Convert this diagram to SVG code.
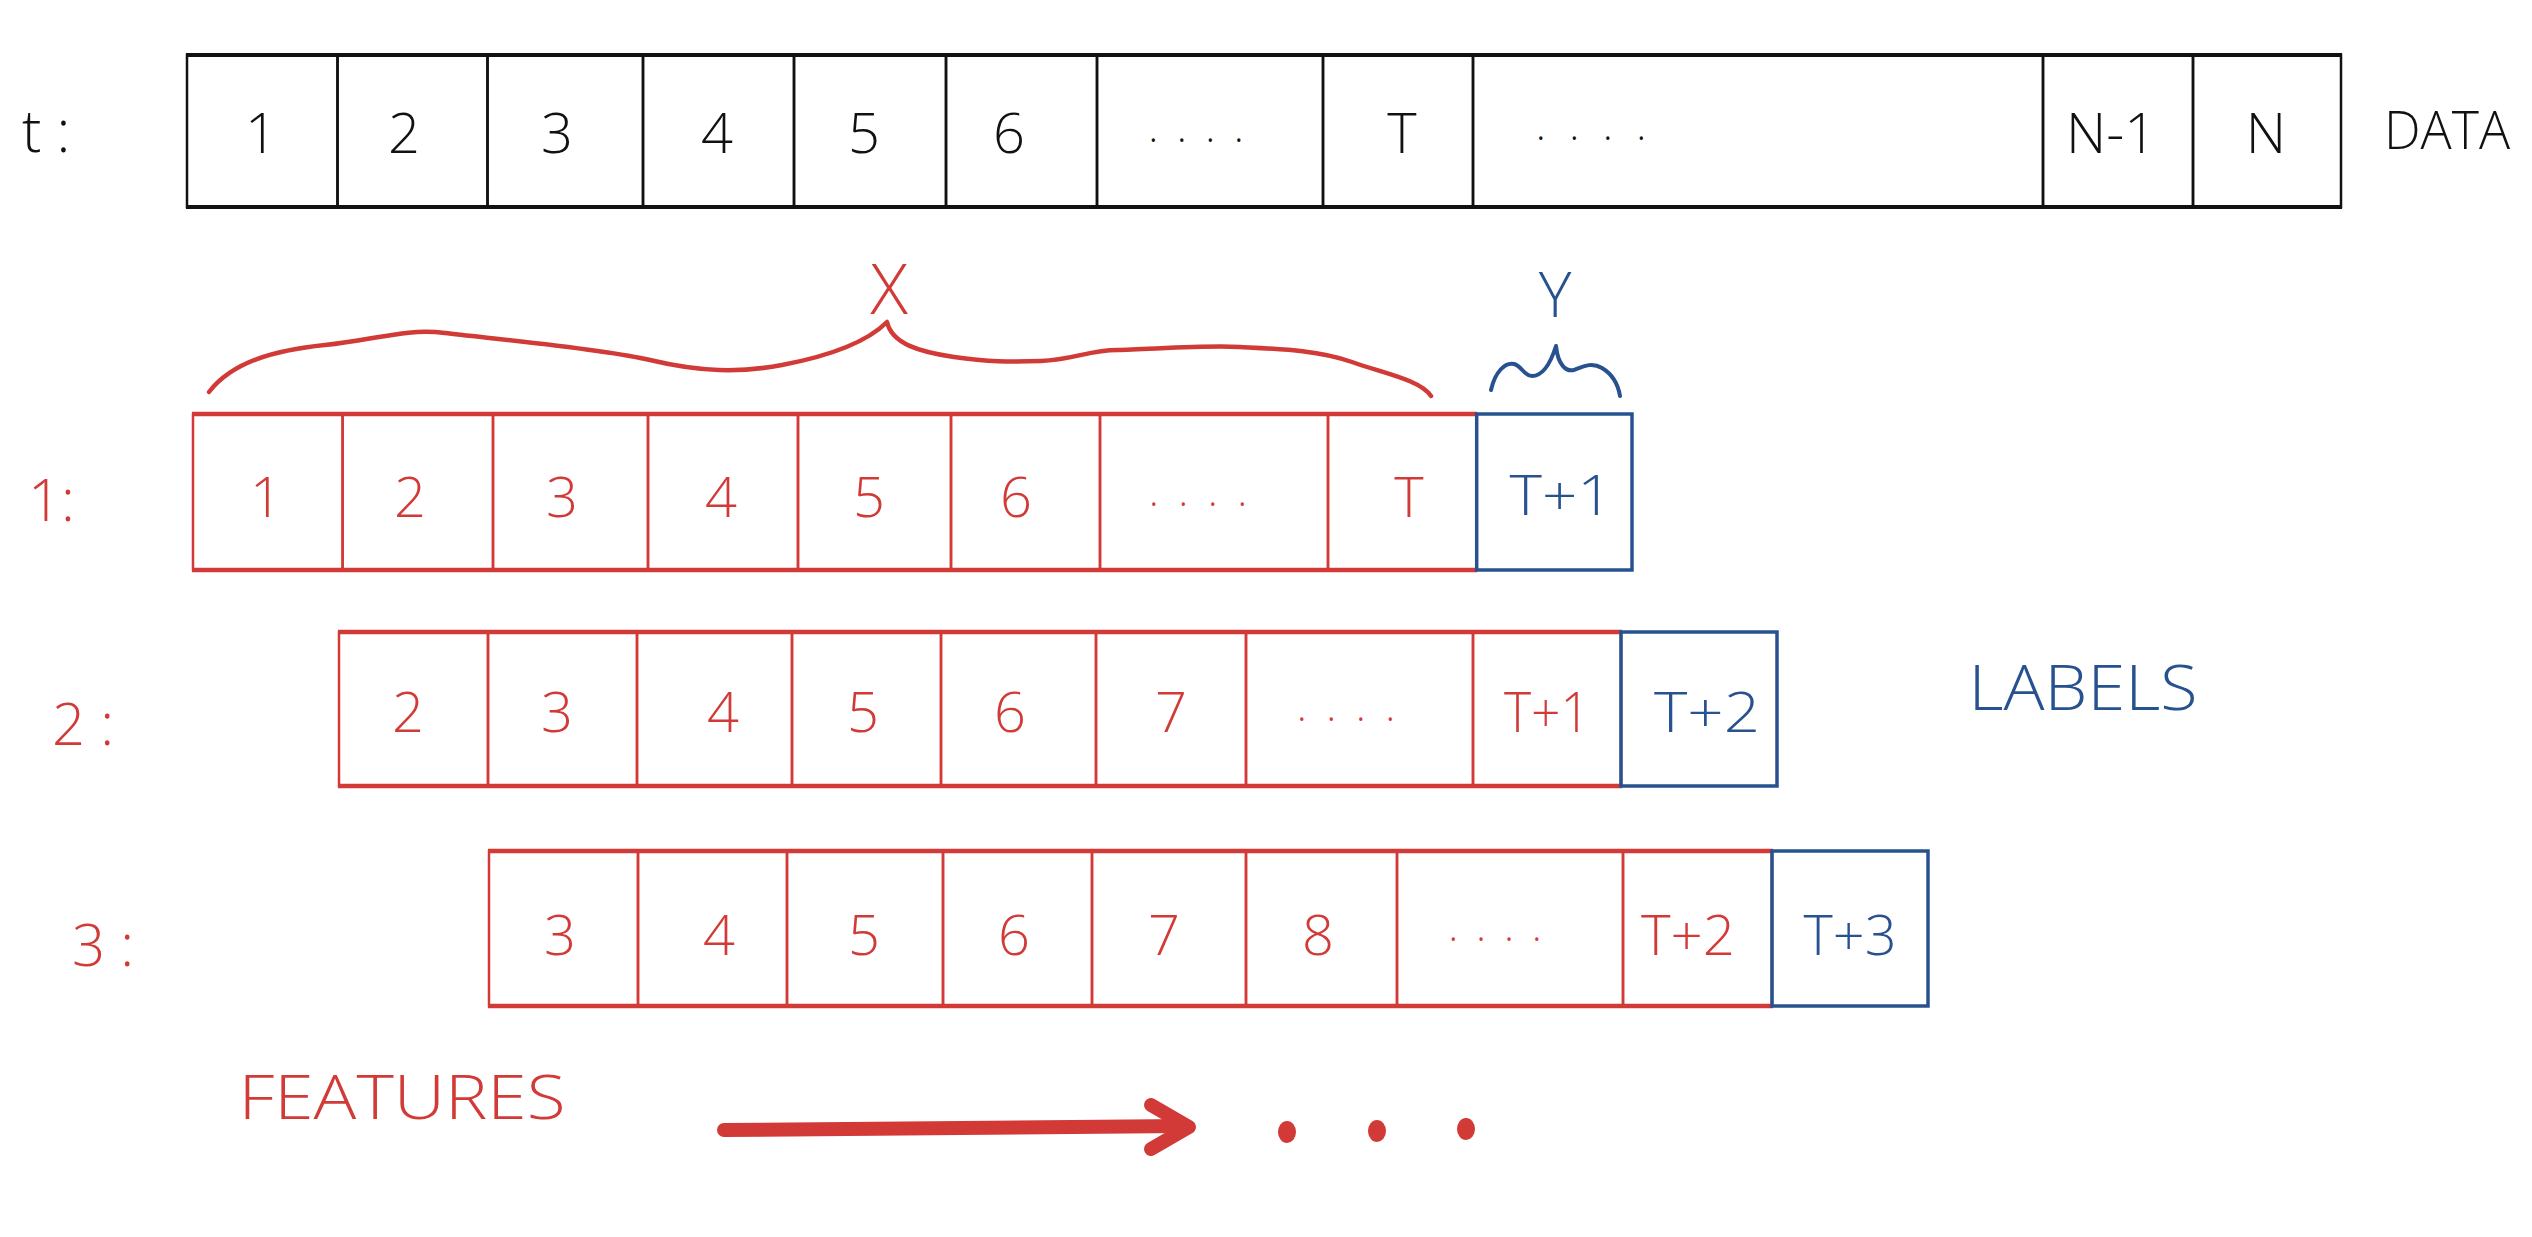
<svg xmlns="http://www.w3.org/2000/svg" width="2532" height="1237" viewBox="0 0 2532 1237">
<style>
text{font-family:"Open Sans","Liberation Sans",sans-serif;font-weight:300;text-anchor:middle}
.k{fill:#111}.r{fill:#d13a36}.b{fill:#27518f}
.cell{fill:none;stroke-width:2.5}
.ck{stroke:#111}.cr{stroke:#d13a36}.cb{stroke:#27518f}
.hk{stroke:#111;stroke-width:4}.hr{stroke:#d13a36;stroke-width:4.5}.hb{stroke:#27518f;stroke-width:4.5}
.d{font-size:56px}
.dots{font-size:40px}
.lbl{text-anchor:start;font-size:58px}
</style>
<rect width="2532" height="1237" fill="#fff"/>

<!-- DATA row -->
<g id="row-data">
  <text class="k lbl" x="22" y="152">t :</text>
  <g id="data-1"><rect class="cell ck" x="187" y="55" width="150.5" height="152"/><text class="k d" x="261" y="153">1</text></g>
  <g id="data-2"><rect class="cell ck" x="337.5" y="55" width="150" height="152"/><text class="k d" x="404" y="153">2</text></g>
  <g id="data-3"><rect class="cell ck" x="487.5" y="55" width="155.5" height="152"/><text class="k d" x="557" y="153">3</text></g>
  <g id="data-4"><rect class="cell ck" x="643" y="55" width="151" height="152"/><text class="k d" x="717" y="153">4</text></g>
  <g id="data-5"><rect class="cell ck" x="794" y="55" width="152" height="152"/><text class="k d" x="864" y="153">5</text></g>
  <g id="data-6"><rect class="cell ck" x="946" y="55" width="151" height="152"/><text class="k d" x="1009" y="153">6</text></g>
  <g id="data-dots1"><rect class="cell ck" x="1097" y="55" width="226" height="152"/><text class="k dots" x="1196" y="142" textLength="95" lengthAdjust="spacing">....</text></g>
  <g id="data-T"><rect class="cell ck" x="1323" y="55" width="150" height="152"/><text class="k d" x="1402" y="153">T</text></g>
  <g id="data-dots2"><rect class="cell ck" x="1473" y="55" width="570" height="152"/><text class="k dots" x="1591" y="140" textLength="110" lengthAdjust="spacing">....</text></g>
  <g id="data-N1"><rect class="cell ck" x="2043" y="55" width="150" height="152"/><text class="k d" x="2111" y="153" textLength="90" lengthAdjust="spacingAndGlyphs">N-1</text></g>
  <g id="data-N"><rect class="cell ck" x="2193" y="55" width="148" height="152"/><text class="k d" x="2266" y="153">N</text></g>
  <line class="hk" x1="186" y1="55" x2="2342" y2="55"/>
  <line class="hk" x1="186" y1="207" x2="2342" y2="207"/>
  <text class="k" x="2447" y="149" font-size="54" textLength="126" lengthAdjust="spacingAndGlyphs">DATA</text>
</g>

<!-- X brace -->
<g id="brace-x">
  <path d="M209,392 C232,362 275,350 325,345 S405,328 445,333 S600,348 650,360 S740,373 782,365 S864,345 887,322 C892,344 920,352 954,357 S1010,362 1041,361 S1090,350 1117,350 S1200,345 1240,347 S1318,350 1352,362 S1420,380 1431,396" fill="none" stroke="#d13a36" stroke-width="4.5" stroke-linecap="round" stroke-linejoin="round"/>
  <text class="r" x="889" y="314" font-size="70">X</text>
</g>

<!-- Y brace -->
<g id="brace-y">
  <path d="M1491,390 C1495,372 1505,362 1514,364 C1522,366 1524,376 1532,376 C1542,376 1550,365 1556,346 C1558,365 1566,372 1574,370 C1584,366 1592,362 1602,368 C1612,374 1618,384 1620,396" fill="none" stroke="#27518f" stroke-width="4" stroke-linecap="round" stroke-linejoin="round"/>
  <text class="b" x="1555" y="317" font-size="62">Y</text>
</g>

<!-- Row 1 -->
<g id="row-1">
  <text class="r lbl" x="28" y="521">1:</text>
  <g id="r1-1"><rect class="cell cr" x="193" y="414" width="149.6" height="156"/><text class="r d" x="266" y="517">1</text></g>
  <g id="r1-2"><rect class="cell cr" x="342.6" y="414" width="150.4" height="156"/><text class="r d" x="410" y="517">2</text></g>
  <g id="r1-3"><rect class="cell cr" x="493" y="414" width="155" height="156"/><text class="r d" x="562" y="517">3</text></g>
  <g id="r1-4"><rect class="cell cr" x="648" y="414" width="150" height="156"/><text class="r d" x="721" y="517">4</text></g>
  <g id="r1-5"><rect class="cell cr" x="798" y="414" width="153" height="156"/><text class="r d" x="869" y="517">5</text></g>
  <g id="r1-6"><rect class="cell cr" x="951" y="414" width="149" height="156"/><text class="r d" x="1016" y="517">6</text></g>
  <g id="r1-dots"><rect class="cell cr" x="1100" y="414" width="228" height="156"/><text class="r dots" x="1198" y="506" textLength="98" lengthAdjust="spacing">....</text></g>
  <g id="r1-T"><rect class="cell cr" x="1328" y="414" width="148.7" height="156"/><text class="r d" x="1409" y="517">T</text></g>
  <line class="hr" x1="192" y1="414" x2="1477" y2="414"/>
  <line class="hr" x1="192" y1="570" x2="1477" y2="570"/>
  <g id="r1-y"><rect x="1476.7" y="414" width="155.3" height="156" fill="none" stroke="#27518f" stroke-width="3.5"/><text class="b d" x="1561" y="515" textLength="103" lengthAdjust="spacingAndGlyphs">T+1</text></g>
</g>

<!-- Row 2 -->
<g id="row-2">
  <text class="r lbl" x="52" y="745">2 :</text>
  <g id="r2-2"><rect class="cell cr" x="339" y="632" width="149" height="154"/><text class="r d" x="408" y="732">2</text></g>
  <g id="r2-3"><rect class="cell cr" x="488" y="632" width="149" height="154"/><text class="r d" x="557" y="732">3</text></g>
  <g id="r2-4"><rect class="cell cr" x="637" y="632" width="155" height="154"/><text class="r d" x="723" y="732">4</text></g>
  <g id="r2-5"><rect class="cell cr" x="792" y="632" width="149" height="154"/><text class="r d" x="863" y="732">5</text></g>
  <g id="r2-6"><rect class="cell cr" x="941" y="632" width="155" height="154"/><text class="r d" x="1010" y="732">6</text></g>
  <g id="r2-7"><rect class="cell cr" x="1096" y="632" width="150" height="154"/><text class="r d" x="1171" y="732">7</text></g>
  <g id="r2-dots"><rect class="cell cr" x="1246" y="632" width="227" height="154"/><text class="r dots" x="1346" y="721" textLength="98" lengthAdjust="spacing">....</text></g>
  <g id="r2-T1"><rect class="cell cr" x="1473" y="632" width="148" height="154"/><text class="r d" x="1547" y="732" textLength="86" lengthAdjust="spacingAndGlyphs">T+1</text></g>
  <line class="hr" x1="338" y1="632" x2="1622" y2="632"/>
  <line class="hr" x1="338" y1="786" x2="1622" y2="786"/>
  <g id="r2-y"><rect x="1621" y="632" width="156" height="154" fill="none" stroke="#27518f" stroke-width="3.5"/><text class="b d" x="1707" y="732" textLength="106" lengthAdjust="spacingAndGlyphs">T+2</text></g>
</g>

<!-- Row 3 -->
<g id="row-3">
  <text class="r lbl" x="72" y="966">3 :</text>
  <g id="r3-3"><rect class="cell cr" x="489" y="851" width="149" height="155"/><text class="r d" x="560" y="955">3</text></g>
  <g id="r3-4"><rect class="cell cr" x="638" y="851" width="149" height="155"/><text class="r d" x="719" y="955">4</text></g>
  <g id="r3-5"><rect class="cell cr" x="787" y="851" width="156" height="155"/><text class="r d" x="864" y="955">5</text></g>
  <g id="r3-6"><rect class="cell cr" x="943" y="851" width="149" height="155"/><text class="r d" x="1014" y="955">6</text></g>
  <g id="r3-7"><rect class="cell cr" x="1092" y="851" width="154" height="155"/><text class="r d" x="1164" y="955">7</text></g>
  <g id="r3-8"><rect class="cell cr" x="1246" y="851" width="151" height="155"/><text class="r d" x="1318" y="955">8</text></g>
  <g id="r3-dots"><rect class="cell cr" x="1397" y="851" width="226" height="155"/><text class="r dots" x="1495" y="941" textLength="93" lengthAdjust="spacing">....</text></g>
  <g id="r3-T2"><rect class="cell cr" x="1623" y="851" width="149" height="155"/><text class="r d" x="1688" y="955" textLength="94" lengthAdjust="spacingAndGlyphs">T+2</text></g>
  <line class="hr" x1="488" y1="851" x2="1773" y2="851"/>
  <line class="hr" x1="488" y1="1006" x2="1773" y2="1006"/>
  <g id="r3-y"><rect x="1772" y="851" width="156" height="155" fill="none" stroke="#27518f" stroke-width="3.5"/><text class="b d" x="1850" y="955" textLength="93" lengthAdjust="spacingAndGlyphs">T+3</text></g>
</g>

<g id="labels-note">
  <text class="b" x="2083" y="710" font-size="62" textLength="229" lengthAdjust="spacingAndGlyphs">LABELS</text>
</g>
<g id="features-note">
  <text class="r" x="402" y="1119" font-size="60" textLength="327" lengthAdjust="spacingAndGlyphs">FEATURES</text>
</g>

<g id="connectors">
  <line x1="724" y1="1130" x2="1184" y2="1126" stroke="#d13a36" stroke-width="14" stroke-linecap="round"/>
  <polyline points="1151,1105 1189,1127 1151,1149" fill="none" stroke="#d13a36" stroke-width="14" stroke-linecap="round" stroke-linejoin="round"/>
  <ellipse cx="1287" cy="1132" rx="9" ry="11" fill="#d13a36"/>
  <ellipse cx="1377" cy="1131" rx="9" ry="11" fill="#d13a36"/>
  <ellipse cx="1466" cy="1129" rx="9" ry="11" fill="#d13a36"/>
</g>
</svg>
